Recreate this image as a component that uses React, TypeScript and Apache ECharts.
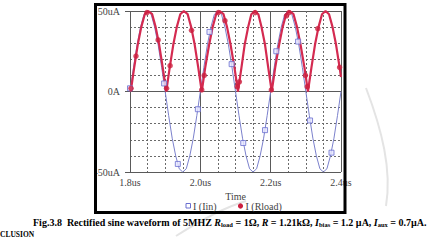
import React, { useEffect, useRef } from 'react';
import * as echarts from 'echarts';

// Time samples in ns (1.8us .. 2.4us)
const timeNs = [
  1800, 1810, 1820, 1830, 1840, 1850, 1860, 1870, 1880, 1890,
  1900, 1910, 1920, 1930, 1940, 1950, 1960, 1970, 1980, 1990,
  2000, 2010, 2020, 2030, 2040, 2050, 2060, 2070, 2080, 2090,
  2100, 2110, 2120, 2130, 2140, 2150, 2160, 2170, 2180, 2190,
  2200, 2210, 2220, 2230, 2240, 2250, 2260, 2270, 2280, 2290,
  2300, 2310, 2320, 2330, 2340, 2350, 2360, 2370, 2380, 2390,
  2400,
];
// I(Iin) in uA
const iinValues = [
  0, 15, 29, 40, 48, 50, 48, 40, 29, 15,
  0, -15, -29, -40, -48, -50, -48, -40, -29, -15,
  0, 15, 29, 40, 48, 50, 48, 40, 29, 15,
  0, -15, -29, -40, -48, -50, -48, -40, -29, -15,
  0, 15, 29, 40, 48, 50, 48, 40, 29, 15,
  0, -15, -29, -40, -48, -50, -48, -40, -29, -15,
  0,
];
// I(Rload) samples (ns) and values (uA)
const rloadTimeNs = [
  1800,
  1802, 1812, 1822, 1832, 1842, 1852, 1863, 1873, 1883, 1893,
  1903, 1913, 1923, 1933, 1943, 1953, 1964, 1974, 1984, 1994,
  2004, 2014, 2025, 2035, 2045, 2055, 2066, 2076, 2086, 2097,
  2107, 2117, 2126, 2136, 2145, 2155, 2165, 2174, 2184, 2193,
  2203, 2213, 2224, 2234, 2244, 2254, 2265, 2275, 2285, 2296,
  2306, 2316, 2326, 2336, 2346, 2356, 2366, 2376, 2386, 2396,
  2400,
];
const rloadValues = [
  3,
  0, 15, 29, 40, 48, 50, 48, 40, 29, 15,
  0, 15, 29, 40, 48, 50, 48, 40, 29, 15,
  0, 15, 29, 40, 48, 50, 48, 40, 29, 15,
  0, 15, 29, 40, 48, 50, 48, 40, 29, 15,
  0, 15, 29, 40, 48, 50, 48, 40, 29, 15,
  0, 15, 29, 40, 48, 50, 48, 40, 29, 15,
  9,
];
// Marker points
const iinMarkTimeNs = [1800, 1897, 1936, 1993, 2026, 2089, 2122, 2184, 2216, 2278, 2312, 2373];
const iinMarkValues = [2, 5, -45, -11, 37, 17, -32, -24, 25, 31, -18, -38];
const rloadMarkTimeNs = [1803, 1817, 1848, 1880, 1904, 1914, 1975, 2004, 2011, 2051, 2070, 2105, 2111, 2156, 2202, 2245, 2252, 2299, 2304, 2334, 2396];
const rloadMarkValues = [2, 22, 49, 32, 2, 16, 38, 1, 10, 49, 44, 3, 6, 49, 1, 47, 49, 10, 3, 39, 15];

const xTickValues = [1800, 2000, 2200, 2400];
const xTickLabels = ['1.8us', '2.0us', '2.2us', '2.4us'];
const yTickValues = [-50, 0, 50];
const yTickLabels = ['-50uA', '0A', '50uA'];
const seriesNames = ['I (Iin)', 'I (Rload)'];

const SERIF = "'Liberation Serif', 'DejaVu Serif', serif";
const IIN_EDGE = '#6a6fd0';
const RLOAD_DOT = '#cc1f3f';

export default function App() {
  const ref = useRef<HTMLDivElement>(null);
  useEffect(() => {
    document.body.style.margin = '0';
    const chart = echarts.init(ref.current!, undefined, { renderer: 'svg' });
    const gridColor = '#5a5a5a';
    const minorColor = '#6a6a6a';
    const option: any = {
      animation: false,
      backgroundColor: '#ffffff',
      grid: { left: 130, right: 88, top: 11, bottom: 80, outerBoundsMode: 'none' },
      xAxis: {
        type: 'value',
        min: 1800,
        max: 2400,
        interval: 200,
        axisLine: { show: false },
        axisTick: { show: true, length: 4, lineStyle: { color: gridColor } },
        axisLabel: {
          formatter: (v: number) => {
            const i = xTickValues.indexOf(Math.round(v));
            return i >= 0 ? xTickLabels[i] : '';
          },
          fontFamily: SERIF,
          fontSize: 10,
          color: '#444',
          margin: 5,
        },
        splitLine: { show: true, lineStyle: { color: gridColor, width: 1 } },
        minorTick: { show: false, splitNumber: 4 },
        minorSplitLine: { show: true, lineStyle: { color: minorColor, width: 1, type: [2, 2] } },
        name: 'Time',
        nameLocation: 'middle',
        nameGap: 16,
        nameTextStyle: { fontFamily: SERIF, fontSize: 10, color: '#444' },
      },
      yAxis: {
        type: 'value',
        min: -50,
        max: 50,
        interval: 50,
        axisLine: { show: false },
        axisTick: { show: true, length: 5, lineStyle: { color: gridColor } },
        axisLabel: {
          formatter: (v: number) => {
            const i = yTickValues.indexOf(Math.round(v));
            return i >= 0 ? yTickLabels[i] : '';
          },
          fontFamily: SERIF,
          fontSize: 10,
          color: '#444',
          margin: 10,
        },
        splitLine: { show: true, lineStyle: { color: gridColor, width: 1 } },
        minorTick: { show: false, splitNumber: 5 },
        minorSplitLine: { show: true, lineStyle: { color: minorColor, width: 1, type: [2, 2] } },
      },
      series: [
        {
          type: 'line',
          data: timeNs.map((t, i) => [t, iinValues[i]]),
          showSymbol: false,
          symbol: 'none',
          lineStyle: { color: '#7b80cc', width: 1 },
          z: 2,
        },
        {
          type: 'line',
          data: rloadTimeNs.map((t, i) => [t, rloadValues[i]]),
          showSymbol: false,
          symbol: 'none',
          lineStyle: { color: '#d42a50', width: 2.2 },
          z: 3,
        },
        {
          type: 'scatter',
          name: seriesNames[0],
          data: iinMarkTimeNs.map((t, i) => [t, iinMarkValues[i]]),
          symbol: 'rect',
          symbolSize: 5,
          itemStyle: { color: '#e6e6ff', borderColor: IIN_EDGE, borderWidth: 1 },
          z: 4,
        },
        {
          type: 'scatter',
          name: seriesNames[1],
          data: rloadMarkTimeNs.map((t, i) => [t, rloadMarkValues[i]]),
          symbol: 'circle',
          symbolSize: 5.5,
          itemStyle: { color: RLOAD_DOT },
          z: 5,
        },
      ],
      graphic: [
        {
          type: 'bezierCurve',
          shape: { x1: 366, y1: 88, cpx1: 382, cpy1: 130, cpx2: 392, cpy2: 170, x2: 386, y2: 206 },
          style: { stroke: '#e4e4e4', lineWidth: 2, fill: 'none' },
          z: -1,
        },
        {
          type: 'bezierCurve',
          shape: { x1: 176, y1: 236, cpx1: 198, cpy1: 222, cpx2: 222, cpy2: 208, x2: 246, y2: 201 },
          style: { stroke: '#e4e4e4', lineWidth: 2, fill: 'none' },
          z: -1,
        },
        {
          type: 'rect',
          shape: { x: 95.5, y: 4.5, width: 249.5, height: 208 },
          style: { fill: 'none', stroke: '#000000', lineWidth: 3 },
          z: 10,
        },
        // legend
        {
          type: 'rect',
          shape: { x: 186, y: 203.5, width: 4.5, height: 4.5 },
          style: { fill: '#ffffff', stroke: IIN_EDGE, lineWidth: 1 },
          z: 10,
        },
        {
          type: 'text',
          x: 193,
          y: 206,
          style: { text: seriesNames[0], font: "10px 'Liberation Serif', serif", fill: '#444', verticalAlign: 'middle', align: 'left' },
          z: 10,
        },
        {
          type: 'circle',
          shape: { cx: 240.5, cy: 206, r: 2.6 },
          style: { fill: RLOAD_DOT },
          z: 10,
        },
        {
          type: 'text',
          x: 245.5,
          y: 206,
          style: { text: seriesNames[1], font: "10px 'Liberation Serif', serif", fill: '#444', verticalAlign: 'middle', align: 'left' },
          z: 10,
        },
        {
          type: 'text',
          x: 33,
          y: 222,
          style: {
            text:
              '{b|Fig.3.8  Rectified sine waveform of 5MHZ }{bi|R}{sub|load}{b| = 1Ω, }{bi|R}{b| = 1.21kΩ, }{bi|I}{sub|bias}{b| = 1.2 µA, }{bi|I}{sub|aux}{b| = 0.7µA.}',
            verticalAlign: 'middle',
            align: 'left',
            rich: {
              b: { fontFamily: SERIF, fontWeight: 'bold', fontSize: 10, lineHeight: 12, fill: '#000' },
              bi: { fontFamily: SERIF, fontWeight: 'bold', fontStyle: 'italic', fontSize: 10, lineHeight: 12, fill: '#000' },
              sub: { fontFamily: SERIF, fontWeight: 'bold', fontSize: 6.5, lineHeight: 6, verticalAlign: 'bottom', fill: '#000' },
            },
          },
          z: 10,
        },
        {
          type: 'text',
          x: 0,
          y: 234,
          style: {
            text: 'CLUSION',
            font: "bold 7.5px 'Liberation Serif', serif",
            fill: '#000',
            verticalAlign: 'middle',
            align: 'left',
          },
          z: 10,
        },
      ],
    };
    chart.setOption(option);
    return () => {
      chart.dispose();
    };
  }, []);
  return <div ref={ref} style={{ width: 429, height: 252 }} />;
}
